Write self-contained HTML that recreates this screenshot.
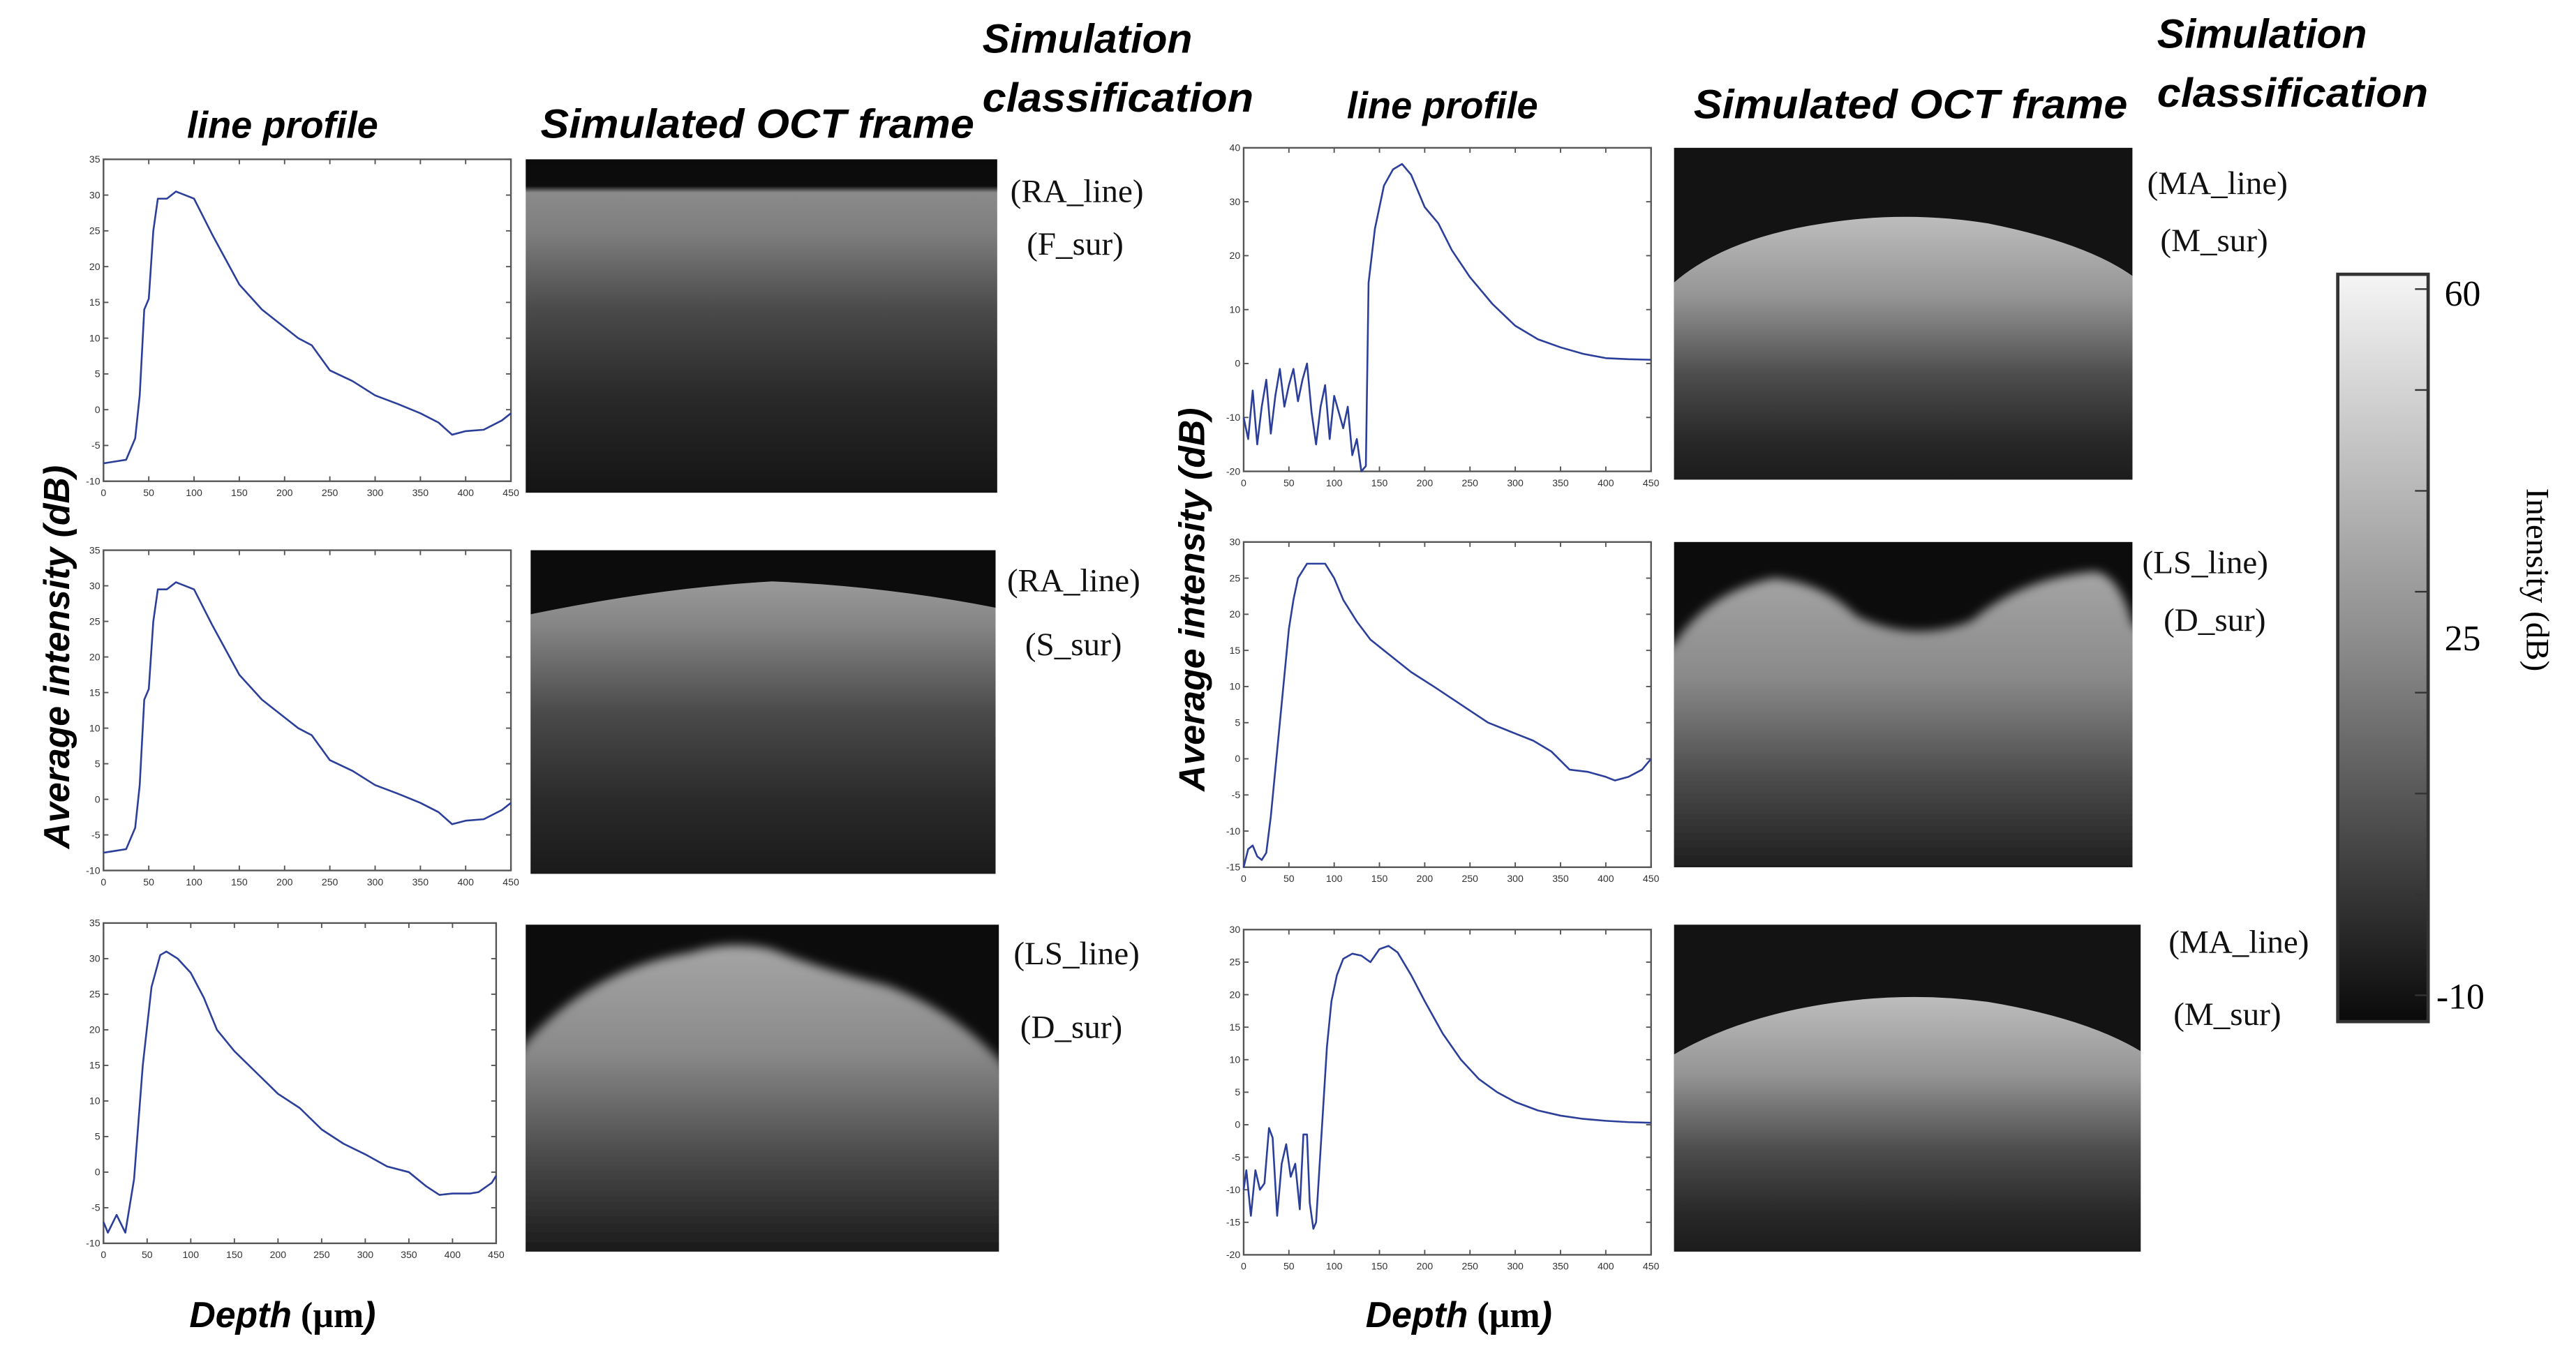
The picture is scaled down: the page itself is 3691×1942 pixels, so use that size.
<!DOCTYPE html>
<html><head><meta charset="utf-8">
<style>
html,body{margin:0;padding:0;background:#fff;}
svg{display:block;}
.t{font-family:"Liberation Sans",Arial,sans-serif;font-weight:bold;font-style:italic;}
.s{font-family:"Liberation Serif","Times New Roman",serif;}
.tk{font-family:"Liberation Sans",sans-serif;font-size:6px;fill:#333;}
</style></head>
<body>
<svg id="fig" width="3691" height="1942" viewBox="0 0 1568 825" xmlns="http://www.w3.org/2000/svg">
<defs>
  <linearGradient id="gF" x1="0" y1="0" x2="0" y2="1">
    <stop offset="0" stop-color="#0b0b0b"/><stop offset="0.08" stop-color="#0d0d0d"/>
    <stop offset="0.1" stop-color="#8a8a8a"/><stop offset="0.22" stop-color="#7e7e7e"/>
    <stop offset="0.45" stop-color="#4a4a4a"/><stop offset="0.7" stop-color="#2a2a2a"/><stop offset="1" stop-color="#141414"/>
  </linearGradient>
  <linearGradient id="gS" x1="0" y1="0" x2="0" y2="1">
    <stop offset="0" stop-color="#9a9a9a"/><stop offset="0.15" stop-color="#858585"/>
    <stop offset="0.45" stop-color="#4a4a4a"/><stop offset="0.75" stop-color="#2a2a2a"/><stop offset="1" stop-color="#1a1a1a"/>
  </linearGradient>
  <linearGradient id="gD" x1="0" y1="0" x2="0" y2="1">
    <stop offset="0" stop-color="#a5a5a5"/><stop offset="0.3" stop-color="#8a8a8a"/>
    <stop offset="0.6" stop-color="#4a4a4a"/><stop offset="0.85" stop-color="#1e1e1e"/><stop offset="1" stop-color="#151515"/>
  </linearGradient>
  <linearGradient id="gM" x1="0" y1="0" x2="0" y2="1">
    <stop offset="0" stop-color="#bdbdbd"/><stop offset="0.3" stop-color="#959595"/>
    <stop offset="0.6" stop-color="#4d4d4d"/><stop offset="0.85" stop-color="#282828"/><stop offset="1" stop-color="#1c1c1c"/>
  </linearGradient>
  <linearGradient id="gC" x1="0" y1="0" x2="0" y2="1">
    <stop offset="0" stop-color="#f5f5f5"/><stop offset="0.5" stop-color="#8a8a8a"/><stop offset="1" stop-color="#0a0a0a"/>
  </linearGradient>
  <filter id="blur3" x="-10%" y="-10%" width="120%" height="120%"><feGaussianBlur stdDeviation="3"/></filter>
  <clipPath id="c3"><rect x="320" y="563" width="288" height="199"/></clipPath>
  <clipPath id="c5"><rect x="1019" y="330" width="279" height="198"/></clipPath>
</defs>

<!-- column titles -->
<text class="t" x="172" y="84" font-size="23" text-anchor="middle">line profile</text>
<text class="t" x="461" y="84" font-size="25" text-anchor="middle" textLength="264" lengthAdjust="spacingAndGlyphs">Simulated OCT frame</text>
<text class="t" x="598" y="32" font-size="25">Simulation</text>
<text class="t" x="598" y="68" font-size="25" textLength="165" lengthAdjust="spacingAndGlyphs">classification</text>
<text class="t" x="878" y="72" font-size="23" text-anchor="middle">line profile</text>
<text class="t" x="1163" y="72" font-size="25" text-anchor="middle" textLength="264" lengthAdjust="spacingAndGlyphs">Simulated OCT frame</text>
<text class="t" x="1313" y="29" font-size="25">Simulation</text>
<text class="t" x="1313" y="65" font-size="25" textLength="165" lengthAdjust="spacingAndGlyphs">classification</text>

<text class="t" font-size="22" transform="translate(42,400) rotate(-90)" text-anchor="middle">Average intensity (dB)</text>
<text class="t" font-size="22" transform="translate(733,365) rotate(-90)" text-anchor="middle">Average intensity (dB)</text>
<text x="172" y="808" font-size="22" text-anchor="middle"><tspan class="t">Depth</tspan><tspan class="s" font-weight="bold"> (µm</tspan><tspan class="t">)</tspan></text>
<text x="888" y="808" font-size="22" text-anchor="middle"><tspan class="t">Depth</tspan><tspan class="s" font-weight="bold"> (µm</tspan><tspan class="t">)</tspan></text>

<!-- OCT frames -->
<g>
  <rect x="320" y="97" width="287" height="203" fill="url(#gF)"/>
</g>
<g>
  <rect x="323" y="335" width="283" height="197" fill="#0c0c0c"/>
  <path d="M323,374 Q400,358 470,354 Q540,357 606,370 L606,532 L323,532 Z" fill="url(#gS)"/>
</g>
<g>
  <rect x="320" y="563" width="288" height="199" fill="#0c0c0c"/>
  <g clip-path="url(#c3)">
    <path d="M310,650 L320,635 Q360,590 420,580 Q445,572 470,578 Q500,590 540,600 Q580,615 608,645 L620,660 L620,790 L310,790 Z" fill="url(#gD)" filter="url(#blur3)"/>
  </g>
</g>
<g>
  <rect x="1019" y="90" width="279" height="202" fill="#131313"/>
  <path d="M1019,172 Q1050,145 1110,136 Q1160,128 1210,136 Q1270,148 1298,168 L1298,292 L1019,292 Z" fill="url(#gM)"/>
</g>
<g>
  <rect x="1019" y="330" width="279" height="198" fill="#0c0c0c"/>
  <g clip-path="url(#c5)">
    <path d="M1005,400 L1019,392 Q1040,360 1080,352 Q1110,355 1130,375 Q1165,392 1200,378 Q1230,352 1275,348 Q1290,350 1298,380 L1310,390 L1310,560 L1005,560 Z" fill="url(#gD)" filter="url(#blur3)"/>
  </g>
</g>
<g>
  <rect x="1019" y="563" width="284" height="199" fill="#131313"/>
  <path d="M1019,642 Q1060,618 1120,610 Q1165,604 1210,610 Q1270,620 1303,640 L1303,762 L1019,762 Z" fill="url(#gM)"/>
</g>

<!-- classification labels -->
<g class="s" font-size="20" fill="#111">
<text x="615" y="123">(RA_line)</text>
<text x="625" y="155">(F_sur)</text>
<text x="613" y="360">(RA_line)</text>
<text x="624" y="399">(S_sur)</text>
<text x="617" y="587">(LS_line)</text>
<text x="621" y="632">(D_sur)</text>
<text x="1307" y="118">(MA_line)</text>
<text x="1315" y="153">(M_sur)</text>
<text x="1304" y="349">(LS_line)</text>
<text x="1317" y="384">(D_sur)</text>
<text x="1320" y="580">(MA_line)</text>
<text x="1323" y="624">(M_sur)</text>
</g>

<!-- colorbar -->
<g>
  <rect x="1423" y="167" width="55" height="455" fill="url(#gC)" stroke="#333" stroke-width="2"/>
  <g id="cbticks"></g>
  <text class="s" x="1488" y="186" font-size="22">60</text>
  <text class="s" x="1488" y="396" font-size="22">25</text>
  <text class="s" x="1483" y="614" font-size="22">-10</text>
  <text class="s" font-size="20" transform="translate(1538,353) rotate(90)" text-anchor="middle">Intensity (dB)</text>
</g>
<g id="charts"></g>
</svg>
<script>
const xTicks = [0,50,100,150,200,250,300,350,400,450];
const yTicks1 = [-10,-5,0,5,10,15,20,25,30,35];
const yTicks4 = [-20,-10,0,10,20,30,40];
const yTicks5 = [-15,-10,-5,0,5,10,15,20,25,30];
const yTicks6 = [-20,-15,-10,-5,0,5,10,15,20,25,30];
const cbTicks = [60,50,40,30,20,10,0,-10];

const depth1 = [0,10,25,35,40,45,50,55,60,70,80,90,100,110,120,135,150,175,200,215,230,250,275,300,325,350,370,385,400,420,440,450];
const inten1 = [-7.5,-7.3,-7,-4,2,14,15.5,25,29.5,29.5,30.5,30,29.5,27,24.5,21,17.5,14,11.5,10,9,5.5,4,2,0.8,-0.5,-1.8,-3.5,-3,-2.8,-1.5,-0.5];
const depth2 = [0,10,25,35,40,45,50,55,60,70,80,90,100,110,120,135,150,175,200,215,230,250,275,300,325,350,370,385,400,420,440,450];
const inten2 = [-7.5,-7.3,-7,-4,2,14,15.5,25,29.5,29.5,30.5,30,29.5,27,24.5,21,17.5,14,11.5,10,9,5.5,4,2,0.8,-0.5,-1.8,-3.5,-3,-2.8,-1.5,-0.5];
const depth3 = [0,5,15,25,35,45,55,65,72,85,100,115,130,150,175,200,225,250,275,300,325,350,370,385,400,420,430,445,450];
const inten3 = [-7,-8.5,-6,-8.5,-1,15,26,30.5,31,30,28,24.5,20,17,14,11,9,6,4,2.5,0.8,0,-2,-3.2,-3,-3,-2.8,-1.5,-0.5];
const depth4 = [0,5,10,15,20,25,30,35,40,45,50,55,60,65,70,75,80,85,90,95,100,105,110,115,120,125,130,135,138,145,155,165,175,185,200,215,230,250,275,300,325,350,375,400,425,450];
const inten4 = [-10,-14,-5,-15,-8,-3,-13,-6,-1,-8,-4,-1,-7,-3,0,-9,-15,-8,-4,-14,-6,-9,-12,-8,-17,-14,-20,-19,15,25,33,36,37,35,29,26,21,16,11,7,4.5,3,1.8,1,0.8,0.7];
const depth5 = [0,5,10,15,20,25,30,40,50,55,60,70,80,90,100,110,125,140,160,185,210,240,270,300,320,340,360,380,400,410,425,440,450];
const inten5 = [-15,-12.5,-12,-13.5,-14,-13,-8,5,18,22,25,27,27,27,25,22,19,16.5,14.5,12,10,7.5,5,3.5,2.5,1,-1.5,-1.8,-2.5,-3,-2.5,-1.5,0];
const depth6 = [0,3,8,13,18,23,28,32,37,42,47,52,57,62,66,70,73,77,80,84,88,92,97,103,110,120,130,140,145,150,160,170,185,200,220,240,260,280,300,325,350,375,400,425,450];
const inten6 = [-10,-7,-14,-7,-10,-9,-0.5,-2,-14,-6,-3,-8,-6,-13,-1.5,-1.5,-12,-16,-15,-6,3,12,19,23,25.5,26.3,26,25,26,27,27.5,26.5,23,19,14,10,7,5,3.5,2.2,1.4,0.9,0.6,0.4,0.3];

const NS = 'http://www.w3.org/2000/svg';
const root = document.getElementById('charts');
function mk(tag, attrs, parent){ const e=document.createElementNS(NS,tag); for(const k in attrs) e.setAttribute(k,attrs[k]); parent.appendChild(e); return e; }

function drawChart(name, box, ymin, ymax, yTicks, xs, ys){
  const g = mk('g', {}, root);
  
  
  const sx = v => box.x + (v-0)/(450-0)*box.w;
  const sy = v => box.y + box.h - (v-ymin)/(ymax-ymin)*box.h;
  const frame = mk('rect', {x:box.x,y:box.y,width:box.w,height:box.h,fill:'#fff',stroke:'#555','stroke-width':1}, g);
  
  
  xTicks.forEach(t=>{
    const x = sx(t);
    mk('line',{x1:x,y1:box.y+box.h,x2:x,y2:box.y+box.h-3,stroke:'#555','stroke-width':0.8},g);
    mk('line',{x1:x,y1:box.y,x2:x,y2:box.y+3,stroke:'#555','stroke-width':0.8},g);
    const tl = mk('text',{x:x,y:box.y+box.h+9,'text-anchor':'middle','class':'tk'},g);
    
    
    tl.textContent = t;
  });
  yTicks.forEach(t=>{
    const y = sy(t);
    mk('line',{x1:box.x,y1:y,x2:box.x+3,y2:y,stroke:'#555','stroke-width':0.8},g);
    mk('line',{x1:box.x+box.w,y1:y,x2:box.x+box.w-3,y2:y,stroke:'#555','stroke-width':0.8},g);
    const tl = mk('text',{x:box.x-2,y:y+2,'text-anchor':'end','class':'tk'},g);
    
    
    tl.textContent = t;
  });
  let d='';
  xs.forEach((v,i)=>{ d += (i?'L':'M') + sx(v).toFixed(2) + ',' + sy(ys[i]).toFixed(2); });
  const p = mk('path',{d:d,fill:'none',stroke:'#2b3f9a','stroke-width':1.1,'stroke-linejoin':'round'},g);
  
  
}

drawChart('line-profile-ra-f-sur', {x:63,y:97,w:248,h:196}, -10, 35, yTicks1, depth1, inten1);
drawChart('line-profile-ra-s-sur', {x:63,y:335,w:248,h:195}, -10, 35, yTicks1, depth2, inten2);
drawChart('line-profile-ls-d-sur', {x:63,y:562,w:239,h:195}, -10, 35, yTicks1, depth3, inten3);
drawChart('line-profile-ma-m-sur-1', {x:757,y:90,w:248,h:197}, -20, 40, yTicks4, depth4, inten4);
drawChart('line-profile-ls-d-sur-2', {x:757,y:330,w:248,h:198}, -15, 30, yTicks5, depth5, inten5);
drawChart('line-profile-ma-m-sur-2', {x:757,y:566,w:248,h:198}, -20, 30, yTicks6, depth6, inten6);

const cb = document.getElementById('cbticks');
cbTicks.forEach(t=>{
  const y = 176 + (60-t)/70*430;
  const l = mk('line',{x1:1470,y1:y,x2:1478,y2:y,stroke:'#333','stroke-width':1},cb);
  
  
});
</script>
</body></html>
